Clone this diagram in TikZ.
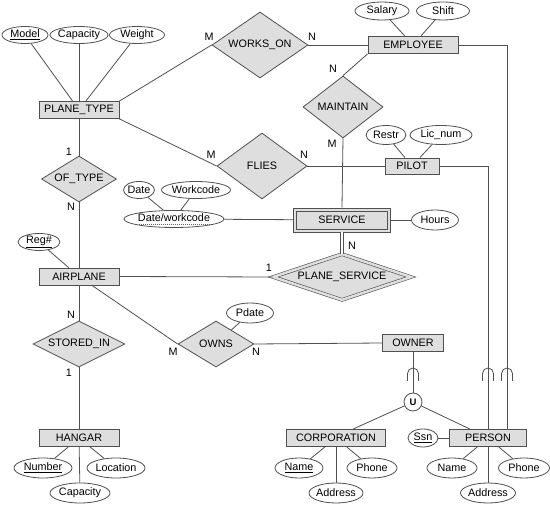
\documentclass[tikz,border=0pt]{standalone}
\usepackage{fontspec}
\setmainfont{Liberation Sans}
\usetikzlibrary{shapes.geometric}
\definecolor{ln}{RGB}{80,80,80}
\definecolor{fl}{RGB}{222,222,222}
\newcommand\zb[1]{\makebox[0pt]{#1}}
\newcommand\dul[1]{\leavevmode\setbox0\hbox{#1}\rlap{\raisebox{-2.2pt}{\hbox to \wd0{\color{black!60}\xleaders\hbox to 2pt{\hss\rule{0.8pt}{0.35pt}\hss}\hfill}}}\box0}
\begin{document}
\begin{tikzpicture}[x=1pt,y=-1pt,
  every node/.style={font=\fontsize{10.8}{12}\selectfont},
  ent/.style={draw=ln, line width=0.8pt, fill=fl, rectangle, inner sep=0pt, minimum height=17pt},
  rel/.style={draw=ln, line width=0.8pt, fill=fl, diamond, aspect=1, inner sep=0pt},
  wrel/.style={rel, double=fl, double distance=2.5pt, line width=0.6pt},
  att/.style={draw=ln, line width=0.8pt, fill=white, ellipse, inner sep=0pt, minimum height=17pt},
  card/.style={inner sep=0pt},
  con/.style={draw=ln, line width=0.8pt},
  subs/.style={draw=ln, line width=0.8pt}
]
\useasboundingbox (0,0) rectangle (550,505);
\fill[white] (0,0) rectangle (550,505);

% entities
\node[ent, minimum width=80pt] (pt) at (79,110) {PLANE\_TYPE};
\node[ent, minimum width=90pt] (emp) at (413,45) {EMPLOYEE};
\node[ent, minimum width=54pt, minimum height=16pt] (pilot) at (412,166) {PILOT};
\node[ent, minimum width=97pt, minimum height=24pt] (svc) at (342,220) {SERVICE};
\draw[draw=ln, line width=0.6pt] ([shift={(3.5pt,-3.5pt)}]svc.north west) rectangle ([shift={(-3.5pt,3.5pt)}]svc.south east);
\node[ent, minimum width=80pt] (ap) at (79,276.5) {AIRPLANE};
\node[ent, minimum width=80pt] (hg) at (79,438) {HANGAR};
\node[ent, minimum width=61pt] (owner) at (413,343) {OWNER};
\node[ent, minimum width=99pt] (corp) at (336,438) {CORPORATION};
\node[ent, minimum width=77pt] (person) at (488,438) {PERSON};

% relationships
\node[rel, minimum width=96pt, minimum height=66pt] (wo) at (260,45) {\zb{WORKS\_ON}};
\node[rel, minimum width=90pt, minimum height=66pt] (fl) at (262,166) {\zb{FLIES}};
\node[rel, minimum width=80pt, minimum height=62pt] (mt) at (343,107) {\zb{MAINTAIN}};
\node[rel, minimum width=75pt, minimum height=46pt] (ot) at (79,179) {\zb{OF\_TYPE}};
\node[wrel, minimum width=138pt, minimum height=46pt] (ps) at (342,277) {\zb{PLANE\_SERVICE}};
\node[rel, minimum width=92pt, minimum height=46pt] (si) at (79,344) {\zb{STORED\_IN}};
\node[rel, minimum width=76pt, minimum height=46pt] (ow) at (216,344) {\zb{OWNS}};

% attributes
\node[att, minimum width=46pt] (model) at (25,35) {\zb{\underline{Model}}};
\node[att, minimum width=58pt] (cap1) at (79,35) {\zb{Capacity}};
\node[att, minimum width=55pt] (weight) at (137,35) {\zb{Weight}};
\node[att, minimum width=54pt, minimum height=18pt] (sal) at (382,11) {\zb{Salary}};
\node[att, minimum width=53pt, minimum height=18pt] (shift) at (443,11) {\zb{Shift}};
\node[att, minimum width=40pt, minimum height=19pt] (restr) at (386,135) {\zb{Restr}};
\node[att, minimum width=62pt, minimum height=19pt] (lic) at (441,135) {\zb{Lic\_num}};
\node[att, minimum width=47pt, minimum height=20pt] (hours) at (435,220) {\zb{Hours}};
\node[att, minimum width=31pt] (date) at (139,190) {\zb{Date}};
\node[att, minimum width=69pt] (wc) at (196,190) {\zb{Workcode}};
\node[att, minimum width=100pt] (dw) at (174,219) {\zb{\dul{Date/workcode}}};
\node[att, minimum width=42pt] (reg) at (39,242) {\zb{\underline{Reg\#}}};
\node[att, minimum width=47pt, minimum height=20pt] (pd) at (250,313) {\zb{Pdate}};
\node[att, minimum width=58pt, minimum height=20pt] (num) at (43,468) {\zb{\underline{Number}}};
\node[att, minimum width=58pt, minimum height=20pt] (loc) at (116,468) {\zb{Location}};
\node[att, minimum width=60pt, minimum height=20pt] (cap2) at (80,493) {\zb{Capacity}};
\node[att, minimum width=48pt, minimum height=20pt] (cn) at (299,468) {\zb{\underline{Name}}};
\node[att, minimum width=50pt, minimum height=20pt] (cp) at (372,468) {\zb{Phone}};
\node[att, minimum width=54pt, minimum height=20pt] (ca) at (336,493) {\zb{Address}};
\node[att, minimum width=30pt, minimum height=18pt] (ssn) at (423,438) {\zb{\underline{Ssn}}};
\node[att, minimum width=50pt, minimum height=20pt] (pn) at (452,468) {\zb{Name}};
\node[att, minimum width=51pt, minimum height=20pt] (pp) at (524,468) {\zb{Phone}};
\node[att, minimum width=55pt, minimum height=20pt] (pa) at (488,493) {\zb{Address}};

% union circle
\node[circle, draw=ln, line width=0.8pt, fill=white, minimum size=18pt, inner sep=0pt, font=\fontsize{9.5}{10}\selectfont\bfseries] (u) at (413,402) {U};

% connectors
\draw[con] (model) -- (pt);
\draw[con] (cap1) -- (pt);
\draw[con] (weight) -- (pt);
\draw[con] (pt.north east) -- (wo.west);
\draw[con] (wo.east) -- (emp.west);
\draw[con] (sal) -- (emp);
\draw[con] (shift) -- (emp);
\draw[con] (emp.south west) -- (mt.north);
\draw[con] (mt.south) -- (svc.north);
\draw[con] (pt.south east) -- (fl.west);
\draw[con] (fl.east) -- (pilot.west);
\draw[con] (restr) -- (pilot);
\draw[con] (lic) -- (pilot);
\draw[con] (pt.south) -- (ot.north);
\draw[con] (ot.south) -- (ap.north);
\draw[con] (reg) -- (ap);
\draw[con] (date) -- (dw);
\draw[con] (wc) -- (dw);
\draw[con] (dw) -- (svc);
\draw[con] (svc) -- (hours);
\draw[con, double=white, double distance=2.5pt, line width=0.6pt] (svc.south) -- (ps.north);
\draw[con] (ap.east) -- (ps.west);
\draw[con] (ap.south) -- (si.north);
\draw[con] (si.south) -- (hg.north);
\draw[con] (num) -- (hg);
\draw[con] (loc) -- (hg);
\draw[con] (cap2) -- (hg);
\draw[con] (ap) -- (ow.west);
\draw[con] (pd) -- (ow);
\draw[con] (ow.east) -- (owner.west);
\draw[con] (owner.south) -- (u.north);
\draw[con] (u) -- ([xshift=17pt]corp.north);
\draw[con] (u) -- ([xshift=-18pt]person.north);
\draw[con] (ssn) -- (person);
\draw[con] (cn) -- (corp);
\draw[con] (cp) -- (corp);
\draw[con] (ca) -- (corp);
\draw[con] (pn) -- (person);
\draw[con] (pp) -- (person);
\draw[con] (pa) -- (person);
\draw[con] (pilot.east) -| (person.north);
\draw[con] (emp.east) -| ([xshift=19pt]person.north);

% subset symbols
\draw[subs] (407.5,381) -- (407.5,373.5) arc[start angle=180, end angle=360, radius=5.5] -- (418.5,381);
\draw[subs] (482.5,381) -- (482.5,373.5) arc[start angle=180, end angle=360, radius=5.5] -- (493.5,381);
\draw[subs] (501.5,381) -- (501.5,373.5) arc[start angle=180, end angle=360, radius=5.5] -- (512.5,381);

% cardinalities
\node[card] (c1) at (209,37) {M};
\node[card] (c2) at (312,37) {N};
\node[card] (c3) at (211,155) {M};
\node[card] (c4) at (304,155) {N};
\node[card] (c5) at (333,69) {N};
\node[card] (c6) at (332,144) {M};
\node[card] (c7) at (69,152) {1};
\node[card] (c8) at (71,207) {N};
\node[card] (c9) at (269,268) {1};
\node[card] (c10) at (352,246) {N};
\node[card] (c11) at (71,315) {N};
\node[card] (c12) at (69,373) {1};
\node[card] (c13) at (173,352) {M};
\node[card] (c14) at (256,352) {N};
\end{tikzpicture}
\end{document}
